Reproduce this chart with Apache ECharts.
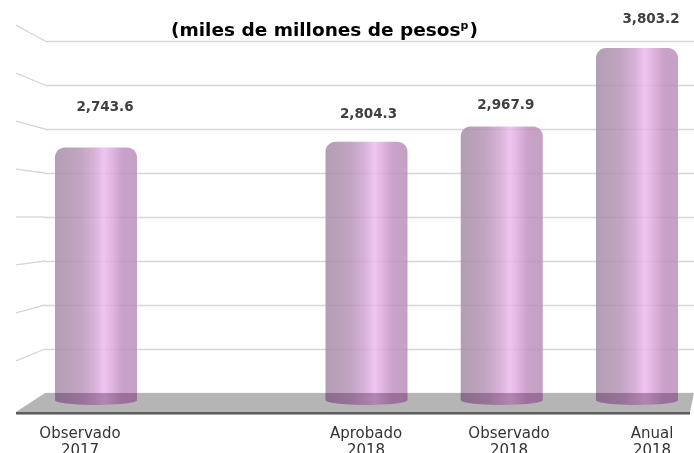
<!DOCTYPE html>
<html>
<head>
<meta charset="utf-8">
<script src="https://cdn.jsdelivr.net/npm/echarts@6/dist/echarts.min.js"></script>
<style>
  html, body { margin: 0; padding: 0; background: #ffffff; }
  #chart { width: 694px; height: 453px; }
</style>
</head>
<body>
<div id="chart"></div>
<script>
// Categories (one empty slot between 2017 and the 2018 figures)
const categories = ['Observado\n2017', '', 'Aprobado\n2018', 'Observado\n2018', 'Anual\n2018'];
// Gasto, miles de millones de pesos
const values = [2743.6, null, 2804.3, 2967.9, 3803.2];
// Value-axis range shared by the back wall and the cylinders
const axisMax = 4000;
const axisStep = 500;

// Label nudges (px) relative to each cylinder's top
const labelNudges = [[9, -40], [0, 0], [2, -27], [4, -21], [14, -28]];

const FONT = '"DejaVu Sans", sans-serif';

const wallTicks = [];
for (let v = axisStep; v <= axisMax; v += axisStep) wallTicks.push(v);

const chart = echarts.init(document.getElementById('chart'), null, { renderer: 'canvas' });

function fmt(v) {
  return v.toLocaleString('en-US', { minimumFractionDigits: 1, maximumFractionDigits: 1 });
}

// Outline of a cylinder: rounded top corners, elliptical bottom
function cylinderOutline(cx, hw, top, bottom, r, ry) {
  const pts = [];
  const n = 8;
  for (let i = 0; i <= n; i++) {
    const a = Math.PI + (Math.PI / 2) * i / n;
    pts.push([cx - hw + r + r * Math.cos(a), top + r + r * Math.sin(a)]);
  }
  for (let i = 0; i <= n; i++) {
    const a = 1.5 * Math.PI + (Math.PI / 2) * i / n;
    pts.push([cx + hw - r + r * Math.cos(a), top + r + r * Math.sin(a)]);
  }
  const m = 24;
  for (let i = 0; i <= m; i++) {
    const a = Math.PI * i / m;
    pts.push([cx + hw * Math.cos(a), bottom - ry + ry * Math.sin(a)]);
  }
  return pts;
}

// Lower part of a cylinder seen through the floor
function bandOutline(cx, hw, top, bottom, ry) {
  const pts = [[cx - hw, top], [cx + hw, top]];
  const m = 24;
  for (let i = 0; i <= m; i++) {
    const a = Math.PI * i / m;
    pts.push([cx + hw * Math.cos(a), bottom - ry + ry * Math.sin(a)]);
  }
  return pts;
}

const bodyFill = new echarts.graphic.LinearGradient(0, 0, 1, 0, [
  { offset: 0, color: '#a68fa6' },
  { offset: 0.3, color: '#b795b7' },
  { offset: 0.48, color: '#d2a6d2' },
  { offset: 0.6, color: '#ecbcec' },
  { offset: 0.68, color: '#dfaddf' },
  { offset: 0.82, color: '#c192c1' },
  { offset: 1, color: '#bb92bb' }
]);
const baseFill = new echarts.graphic.LinearGradient(0, 0, 1, 0, [
  { offset: 0, color: '#86688a' },
  { offset: 0.35, color: '#966f96' },
  { offset: 0.6, color: '#ad80ad' },
  { offset: 0.8, color: '#9a6c99' },
  { offset: 1, color: '#946b94' }
]);

const option = {
  backgroundColor: '#ffffff',
  animation: false,
  title: {
    text: '{a|(miles de millones de pesos}{s|p}{a|)}',
    left: 166,
    top: 16,
    textStyle: {
      rich: {
        a: { fontFamily: FONT, fontSize: 18.5, fontWeight: 'bold', color: '#000000' },
        s: { fontFamily: FONT, fontSize: 11, fontWeight: 'bold', color: '#000000', padding: [0, 1, 9, 0] }
      }
    }
  },
  grid: [
    // back wall
    { left: 45, right: 0, top: 41, bottom: 60, outerBoundsMode: 'none' },
    // cylinders
    { left: 96, right: 57, top: 29.5, bottom: 48, outerBoundsMode: 'none' },
    // category labels along the floor front
    { left: 80, right: 42, top: 10, bottom: 38, outerBoundsMode: 'none' }
  ],
  xAxis: [
    { type: 'value', gridIndex: 0, min: 0, max: 1, show: false },
    { type: 'category', gridIndex: 1, data: categories, boundaryGap: false, show: false },
    {
      type: 'category', gridIndex: 2, data: categories, boundaryGap: false,
      axisLine: { show: false }, axisTick: { show: false },
      axisLabel: {
        interval: 0, margin: 11, fontFamily: FONT, fontSize: 15, lineHeight: 17, color: '#333333'
      }
    }
  ],
  yAxis: [
    {
      type: 'value', gridIndex: 0, min: 0, max: axisMax, interval: axisStep,
      axisLine: { show: false }, axisTick: { show: false }, axisLabel: { show: false },
      splitLine: { show: true, lineStyle: { color: '#d6d6d6', width: 1.3 } }
    },
    { type: 'value', gridIndex: 1, min: 0, max: axisMax, show: false },
    { type: 'value', gridIndex: 2, min: 0, max: 1, show: false }
  ],
  series: [
    {
      // side-wall segments of the gridlines, converging toward mid height
      type: 'custom',
      xAxisIndex: 0, yAxisIndex: 0,
      z: 1,
      silent: true,
      data: wallTicks.map(v => [0, v]),
      renderItem: function (params, api) {
        const p = api.coord([0, api.value(1)]);
        const vy = api.coord([0, axisMax / 2])[1];
        const ly = vy + (p[1] - vy) * 1.09;
        return {
          type: 'line',
          shape: { x1: p[0] - 29, y1: ly, x2: p[0], y2: p[1] },
          style: { stroke: '#d6d6d6', lineWidth: 1.3 }
        };
      }
    },
    {
      // floor slab
      type: 'custom',
      xAxisIndex: 0, yAxisIndex: 0,
      z: 2,
      silent: true,
      data: [[0, 0]],
      renderItem: function (params, api) {
        const back = api.coord([0, 0]);
        const backR = api.coord([1, 0]);
        const frontY = back[1] + 19;
        return {
          type: 'group',
          children: [
            {
              type: 'polygon',
              shape: { points: [[back[0], back[1]], [backR[0], back[1]], [backR[0] - 4, frontY], [back[0] - 29, frontY]] },
              style: { fill: '#b5b5b5' }
            },
            {
              type: 'line',
              shape: { x1: back[0] - 29, y1: frontY + 1, x2: backR[0] - 4, y2: frontY + 1 },
              style: { stroke: '#5c5c5c', lineWidth: 2 }
            },
            {
              type: 'line',
              shape: { x1: back[0] - 29, y1: frontY + 2.5, x2: backR[0] - 4, y2: frontY + 2.5 },
              style: { stroke: '#a8a8a8', lineWidth: 1 }
            }
          ]
        };
      }
    },
    {
      // cylinders with value labels
      type: 'custom',
      xAxisIndex: 1, yAxisIndex: 1,
      z: 3,
      data: values.map((v, i) => [i, v]),
      encode: { x: 0, y: 1 },
      renderItem: function (params, api) {
        const idx = api.value(0);
        const val = values[idx];
        if (val == null) return null;
        const top = api.coord([idx, val]);
        const base = api.coord([idx, 0]);
        const cx = top[0];
        const hw = 41;
        const nudge = labelNudges[idx];
        return {
          type: 'group',
          children: [
            {
              type: 'polygon',
              shape: { points: cylinderOutline(cx, hw, top[1], base[1], 10, 5) },
              style: { fill: bodyFill, opacity: 0.86 }
            },
            {
              type: 'polygon',
              shape: { points: bandOutline(cx, hw, base[1] - 12, base[1], 5) },
              style: { fill: baseFill, opacity: 0.9 }
            },
            {
              type: 'text',
              style: {
                x: cx + nudge[0], y: top[1] + nudge[1],
                text: fmt(val),
                align: 'center', verticalAlign: 'middle',
                font: 'bold 13.5px ' + FONT,
                fill: '#404040'
              }
            }
          ]
        };
      }
    }
  ]
};

chart.setOption(option);
</script>
</body>
</html>
